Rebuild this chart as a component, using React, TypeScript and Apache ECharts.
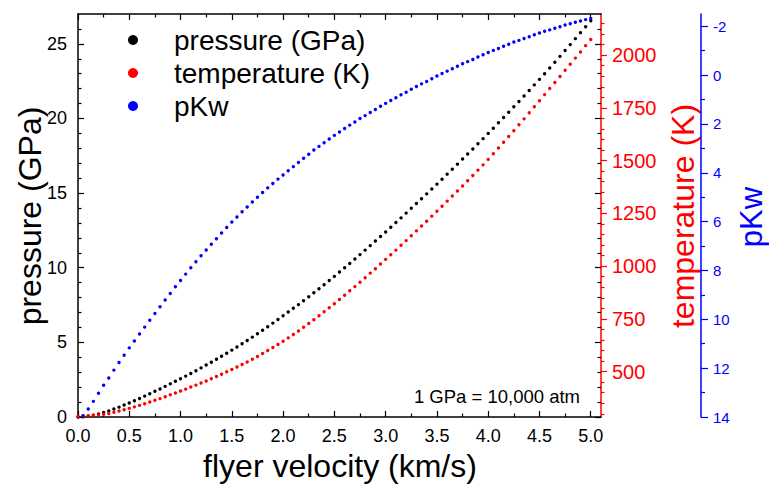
import React, { useEffect, useRef } from "react";
import * as echarts from "echarts";

const velocity = [0,0.05,0.1,0.15,0.2,0.25,0.3,0.35,0.4,0.45,0.5,0.55,0.6,0.65,0.7,0.75,0.8,0.85,0.9,0.95,1,1.05,1.1,1.15,1.2,1.25,1.3,1.35,1.4,1.45,1.5,1.55,1.6,1.65,1.7,1.75,1.8,1.85,1.9,1.95,2,2.05,2.1,2.15,2.2,2.25,2.3,2.35,2.4,2.45,2.5,2.55,2.6,2.65,2.7,2.75,2.8,2.85,2.9,2.95,3,3.05,3.1,3.15,3.2,3.25,3.3,3.35,3.4,3.45,3.5,3.55,3.6,3.65,3.7,3.75,3.8,3.85,3.9,3.95,4,4.05,4.1,4.15,4.2,4.25,4.3,4.35,4.4,4.45,4.5,4.55,4.6,4.65,4.7,4.75,4.8,4.85,4.9,4.95,5];

const pressure = [0.00,0.02,0.06,0.12,0.20,0.30,0.41,0.53,0.66,0.80,0.94,1.09,1.24,1.40,1.56,1.72,1.88,2.05,2.22,2.39,2.56,
2.74,2.92,3.10,3.29,3.48,3.67,3.87,4.07,4.27,4.48,4.69,4.91,5.13,5.35,5.58,5.81,6.05,6.29,6.53,6.78,
7.03,7.28,7.53,7.79,8.05,8.32,8.59,8.86,9.14,9.42,9.71,10.00,10.29,10.58,10.88,11.18,11.48,11.79,12.09,12.40,
12.71,13.03,13.34,13.66,13.98,14.30,14.62,14.95,15.27,15.60,15.93,16.27,16.60,16.94,17.28,17.62,17.96,18.31,18.65,19.00,
19.35,19.71,20.06,20.42,20.78,21.14,21.51,21.88,22.25,22.62,23.00,23.38,23.77,24.16,24.55,24.95,25.35,25.75,26.15,26.55];

const temperature = [288,289,291,293,295,298,302,307,313,319,326,333,340,348,356,364,372,381,390,399,408,
417,427,436,446,456,466,477,488,499,510,522,534,546,559,572,586,600,614,629,644,
660,676,693,710,728,746,765,784,803,822,842,862,883,903,924,945,967,988,1010,1032,
1054,1076,1099,1121,1144,1167,1190,1213,1237,1260,1284,1308,1332,1356,1380,1405,1430,1455,1480,1506,
1533,1560,1587,1614,1642,1670,1698,1727,1755,1784,1813,1842,1870,1899,1928,1957,1986,2015,2045,2074];

const pKw = [14.25,13.95,13.67,13.36,13.03,12.70,12.40,12.08,11.77,11.47,11.17,10.89,10.60,10.32,10.04,9.76,9.49,9.21,8.94,8.67,8.41,
8.15,7.89,7.64,7.40,7.16,6.93,6.70,6.47,6.24,6.02,5.81,5.60,5.40,5.20,5.00,4.81,4.62,4.44,4.26,4.09,
3.92,3.75,3.58,3.41,3.24,3.07,2.92,2.77,2.62,2.47,2.33,2.19,2.05,1.92,1.78,1.66,1.53,1.41,1.28,1.16,
1.04,0.93,0.81,0.70,0.58,0.47,0.36,0.26,0.15,0.04,-0.06,-0.16,-0.26,-0.36,-0.46,-0.55,-0.64,-0.74,-0.83,-0.92,
-1.01,-1.09,-1.18,-1.26,-1.35,-1.42,-1.50,-1.57,-1.65,-1.72,-1.79,-1.85,-1.92,-1.98,-2.05,-2.10,-2.16,-2.21,-2.27,-2.32];

const seriesNames = ["pressure (GPa)", "temperature (K)", "pKw"];

const xMajorTicks = [0,0.5,1,1.5,2,2.5,3,3.5,4,4.5,5];
const xMinorTicks = [0.25,0.75,1.25,1.75,2.25,2.75,3.25,3.75,4.25,4.75];
const pressureMajorTicks = [0,5,10,15,20,25];
const pressureMinorTicks = [1,2,3,4,6,7,8,9,11,12,13,14,16,17,18,19,21,22,23,24,26];
const temperatureMajorTicks = [500,750,1000,1250,1500,1750,2000];
const temperatureMinorTicks = [300,350,400,450,550,600,650,700,800,850,900,950,1050,1100,1150,1200,1300,1350,1400,1450,1550,1600,1650,1700,1800,1850,1900,1950,2050,2100,2150];
const pKwMajorTicks = [-2,0,2,4,6,8,10,12,14];
const pKwMinorTicks = [-1,1,3,5,7,9,11,13];

const X_MIN = 0, X_MAX = 5.1;
const P_MIN = 0, P_MAX = 27;
const T_MIN = 285, T_MAX = 2195;
const K_MIN = -2.5, K_MAX = 14;

const FONT = '"Liberation Sans", Arial, Helvetica, sans-serif';
const BLACK = "#000000";
const RED = "#ff0000";
const BLUE = "#0000ff";

function axis(o: any) {
  const {
    position, min, max, color, ticks, tickLen, inside, labels, labelSize, labelMargin,
    showLine, formatter, offset, inverse,
  } = o;
  return {
    type: "value",
    position,
    min,
    max,
    offset: offset || 0,
    inverse: !!inverse,
    splitLine: { show: false },
    minorTick: { show: false },
    axisLine: { show: !!showLine, onZero: false, lineStyle: { color, width: 1.5 } },
    axisTick: {
      show: true,
      inside,
      length: tickLen,
      customValues: ticks,
      lineStyle: { color, width: 1.2 },
    },
    axisLabel: labels
      ? {
          show: true,
          customValues: labels,
          color,
          fontSize: labelSize,
          fontFamily: FONT,
          margin: labelMargin,
          formatter: formatter || ((v: number) => String(v)),
        }
      : { show: false },
  };
}

export default function App() {
  const ref = useRef<HTMLDivElement>(null);

  useEffect(() => {
    if (!ref.current) return;
    const chart = echarts.init(ref.current, undefined, { renderer: "svg" });

    const xAxes = [
      axis({ position: "bottom", min: X_MIN, max: X_MAX, color: BLACK, ticks: xMajorTicks, tickLen: 6, inside: true,
        labels: xMajorTicks, labelSize: 18, labelMargin: 10, showLine: true, formatter: (v: number) => v.toFixed(1) }),
      axis({ position: "bottom", min: X_MIN, max: X_MAX, color: BLACK, ticks: xMinorTicks, tickLen: 3.5, inside: true }),
      axis({ position: "top", min: X_MIN, max: X_MAX, color: BLACK, ticks: xMajorTicks, tickLen: 6, inside: true, showLine: true }),
      axis({ position: "top", min: X_MIN, max: X_MAX, color: BLACK, ticks: xMinorTicks, tickLen: 3.5, inside: true }),
    ];

    const yAxes = [
      axis({ position: "left", min: P_MIN, max: P_MAX, color: BLACK, ticks: pressureMajorTicks, tickLen: 6, inside: true,
        labels: pressureMajorTicks, labelSize: 18, labelMargin: 11, showLine: true }),
      axis({ position: "left", min: P_MIN, max: P_MAX, color: BLACK, ticks: pressureMinorTicks, tickLen: 3.5, inside: true }),
      axis({ position: "right", min: P_MIN, max: P_MAX, color: BLACK, ticks: pressureMajorTicks, tickLen: 6, inside: true }),
      axis({ position: "right", min: P_MIN, max: P_MAX, color: BLACK, ticks: pressureMinorTicks, tickLen: 3.5, inside: true }),
      axis({ position: "right", min: T_MIN, max: T_MAX, color: RED, ticks: temperatureMajorTicks, tickLen: 6, inside: false,
        labels: temperatureMajorTicks, labelSize: 20, labelMargin: 11, showLine: true }),
      axis({ position: "right", min: T_MIN, max: T_MAX, color: RED, ticks: temperatureMinorTicks, tickLen: 3.5, inside: false }),
      axis({ position: "right", min: K_MIN, max: K_MAX, color: BLUE, ticks: pKwMajorTicks, tickLen: 7, inside: false, inverse: true,
        labels: pKwMajorTicks, labelSize: 15, labelMargin: 12, showLine: true, offset: 100 }),
      axis({ position: "right", min: K_MIN, max: K_MAX, color: BLUE, ticks: pKwMinorTicks, tickLen: 4, inside: false, inverse: true, offset: 100 }),
    ];

    const dotSeries = (name: string, yIdx: number, values: number[], color: string) => ({
      type: "scatter",
      name,
      xAxisIndex: 0,
      yAxisIndex: yIdx,
      symbol: "circle",
      symbolSize: 3.4,
      itemStyle: { color, opacity: 1 },
      clip: true,
      silent: true,
      data: velocity.map((v, i) => [v, values[i]]),
    });

    chart.setOption({
      animation: false,
      textStyle: { fontFamily: FONT },
      grid: { left: 78, right: 168, top: 14, bottom: 80, containLabel: false },
      xAxis: xAxes,
      yAxis: yAxes,
      legend: {
        orient: "vertical",
        left: 128,
        top: 26,
        padding: 0,
        itemGap: 5,
        itemWidth: 72,
        itemHeight: 10,
        icon: "circle",
        symbolKeepAspect: true,
        selectedMode: false,
        textStyle: { fontSize: 28, color: BLACK, fontFamily: FONT, lineHeight: 28 },
        data: seriesNames,
      },
      series: [
        dotSeries(seriesNames[0], 0, pressure, BLACK),
        dotSeries(seriesNames[1], 4, temperature, RED),
        dotSeries(seriesNames[2], 6, pKw, BLUE),
      ],
      graphic: [
        { type: "text", x: 30, y: 216, rotation: Math.PI / 2,
          style: { text: "pressure (GPa)", fontSize: 32, fontFamily: FONT, fill: BLACK, align: "center", verticalAlign: "middle" } },
        { type: "text", x: 683, y: 216, rotation: Math.PI / 2,
          style: { text: "temperature (K)", fontSize: 32, fontFamily: FONT, fill: RED, align: "center", verticalAlign: "middle" } },
        { type: "text", x: 751, y: 217, rotation: Math.PI / 2,
          style: { text: "pKw", fontSize: 31, fontFamily: FONT, fill: BLUE, align: "center", verticalAlign: "middle" } },
        { type: "text", x: 340, y: 466,
          style: { text: "flyer velocity (km/s)", fontSize: 32, fontFamily: FONT, fill: BLACK, align: "center", verticalAlign: "middle" } },
        { type: "text", x: 580, y: 396,
          style: { text: "1 GPa = 10,000 atm", fontSize: 18.5, fontFamily: FONT, fill: BLACK, align: "right", verticalAlign: "middle" } },
      ],
    });

    return () => chart.dispose();
  }, []);

  return (
    <div
      ref={ref}
      style={{ position: "fixed", left: 0, top: 0, width: 769, height: 497, background: "#ffffff" }}
    />
  );
}
